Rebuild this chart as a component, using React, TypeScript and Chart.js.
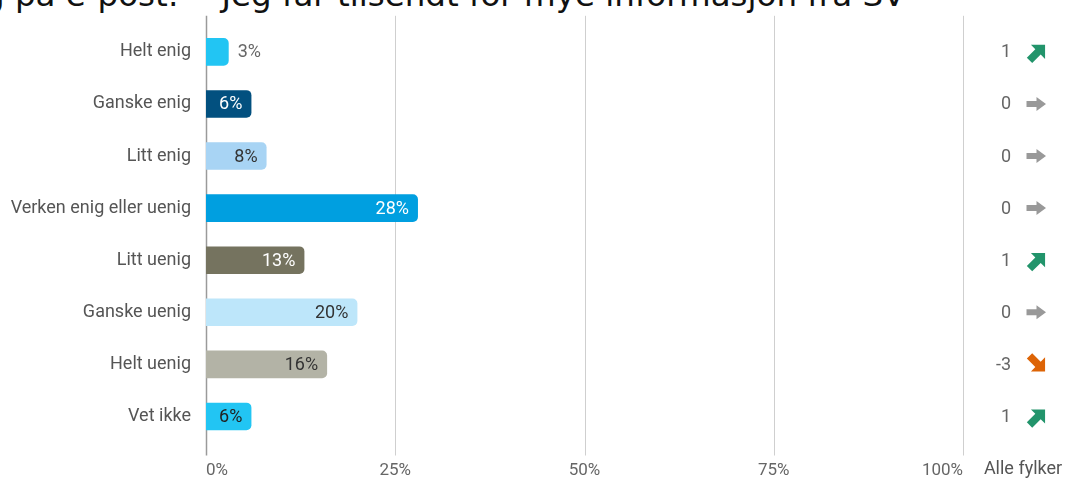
import React, { useEffect, useRef } from "react";
import { Chart, registerables } from "chart.js";

Chart.register(...registerables);

const titleText = "g på e-post:  - Jeg får tilsendt for mye informasjon fra SV";
const columnTitle = "Alle fylker";
const categories = [
  "Helt enig",
  "Ganske enig",
  "Litt enig",
  "Verken enig eller uenig",
  "Litt uenig",
  "Ganske uenig",
  "Helt uenig",
  "Vet ikke",
];
const values = [3, 6, 8, 28, 13, 20, 16, 6];
const changes = [1, 0, 0, 0, 1, 0, -3, 1];
const barColors = ["#22c5f3", "#02507f", "#a8d4f4", "#009fe0", "#75735f", "#bde6fa", "#b3b3a6", "#22c5f3"];
const labelColors = ["#666666", "#ffffff", "#333333", "#ffffff", "#ffffff", "#333333", "#333333", "#222222"];
const xTicks = [0, 25, 50, 75, 100];

const FONT = "Roboto, 'Noto Sans', sans-serif";

function drawArrow(
  ctx: CanvasRenderingContext2D,
  cx: number,
  cy: number,
  angle: number,
  color: string,
  shaftBack: number,
  shaftHalf: number,
  headHalf: number,
  headLen: number
) {
  ctx.save();
  ctx.translate(cx, cy);
  ctx.rotate(angle);
  ctx.beginPath();
  ctx.moveTo(-shaftBack, -shaftHalf);
  ctx.lineTo(0, -shaftHalf);
  ctx.lineTo(0, -headHalf);
  ctx.lineTo(headLen, 0);
  ctx.lineTo(0, headHalf);
  ctx.lineTo(0, shaftHalf);
  ctx.lineTo(-shaftBack, shaftHalf);
  ctx.closePath();
  ctx.fillStyle = color;
  ctx.fill();
  ctx.restore();
}

const gridPlugin = {
  id: "customGrid",
  beforeDatasetsDraw(chart: any) {
    const { ctx, chartArea, scales } = chart;
    ctx.save();
    xTicks.forEach((v) => {
      const x = Math.round(scales.x.getPixelForValue(v)) + 0.5;
      ctx.beginPath();
      ctx.moveTo(x, chartArea.top - 10);
      ctx.lineTo(x, chartArea.bottom + 13);
      ctx.strokeStyle = v === 0 ? "#9a9a9a" : "#cfcfcf";
      ctx.lineWidth = v === 0 ? 1.5 : 1;
      ctx.stroke();
    });
    ctx.restore();
  },
};

const labelPlugin = {
  id: "valueLabels",
  afterDatasetsDraw(chart: any) {
    const { ctx, chartArea, scales } = chart;
    const meta = chart.getDatasetMeta(0);
    ctx.save();
    ctx.font = `18px ${FONT}`;
    ctx.textBaseline = "middle";
    meta.data.forEach((bar: any, i: number) => {
      const txt = `${values[i]}%`;
      const w = ctx.measureText(txt).width;
      const barW = bar.x - bar.base;
      if (barW > w + 16) {
        ctx.textAlign = "right";
        ctx.fillStyle = labelColors[i];
        ctx.fillText(txt, bar.x - 9, bar.y + 1);
      } else {
        ctx.textAlign = "left";
        ctx.fillStyle = "#666666";
        ctx.fillText(txt, bar.x + 9, bar.y + 1);
      }
    });
    // right column: change values and arrows
    changes.forEach((c, i) => {
      const y = scales.y.getPixelForValue(i);
      ctx.textAlign = "right";
      ctx.fillStyle = "#666666";
      ctx.fillText(String(c), chartArea.right + 48, y + 1);
      const ax = chartArea.right + 74;
      if (c > 0) drawArrow(ctx, ax + 1, y, -Math.PI / 4, "#22946b", 12, 3.8, 10, 10);
      else if (c < 0) drawArrow(ctx, ax + 1, y, Math.PI / 4, "#dd6406", 12, 3.8, 10, 10);
      else drawArrow(ctx, ax - 0.5, y, 0, "#999999", 10, 3, 7, 9.5);
    });
    ctx.textAlign = "center";
    ctx.textBaseline = "top";
    ctx.fillStyle = "#555555";
    ctx.font = `18px ${FONT}`;
    ctx.fillText(columnTitle, chartArea.right + 60, chartArea.bottom + 18);
    ctx.restore();
  },
};

export default function App() {
  const canvasRef = useRef<HTMLCanvasElement | null>(null);

  useEffect(() => {
    if (!canvasRef.current) return;
    const chart = new Chart(canvasRef.current, {
      type: "bar",
      data: {
        labels: categories,
        datasets: [
          {
            data: values,
            backgroundColor: barColors,
            borderRadius: 5,
            borderSkipped: "start",
            barPercentage: 0.53,
            categoryPercentage: 1,
          },
        ],
      },
      options: {
        indexAxis: "y",
        animation: false,
        responsive: true,
        maintainAspectRatio: false,
        layout: { padding: { top: 21, right: 102, left: 0, bottom: 0 } },
        plugins: { legend: { display: false }, tooltip: { enabled: false } },
        scales: {
          x: {
            min: 0,
            max: 100,
            afterBuildTicks: (scale: any) => {
              scale.ticks = xTicks.map((v) => ({ value: v }));
            },
            afterFit: (scale: any) => {
              scale.height = 37.5;
            },
            grid: { display: false, drawTicks: false },
            border: { display: false },
            ticks: {
              align: "inner",
              padding: 18,
              color: "#666666",
              font: { family: FONT, size: 17 },
              callback: (v: any) => `${v}%`,
            },
          },
          y: {
            afterFit: (scale: any) => {
              scale.width = 206;
            },
            grid: { display: false, drawTicks: false },
            border: { display: false },
            ticks: {
              padding: 15,
              color: "#555555",
              font: { family: FONT, size: 18 },
            },
          },
        },
      },
      plugins: [gridPlugin, labelPlugin],
    } as any);
    return () => chart.destroy();
  }, []);

  return (
    <div
      style={{
        position: "fixed",
        left: 0,
        top: 0,
        width: 1065,
        height: 480,
        overflow: "hidden",
        background: "#ffffff",
      }}
    >
      <div
        style={{
          position: "absolute",
          left: -16,
          top: -21,
          fontFamily: "'DejaVu Sans', Verdana, sans-serif",
          fontSize: 32.5,
          lineHeight: "32px",
          whiteSpace: "pre",
          color: "#111111",
        }}
      >
        {titleText}
      </div>
      <div style={{ position: "absolute", left: 0, top: 0, width: 1065, height: 480 }}>
        <canvas ref={canvasRef} />
      </div>
    </div>
  );
}
